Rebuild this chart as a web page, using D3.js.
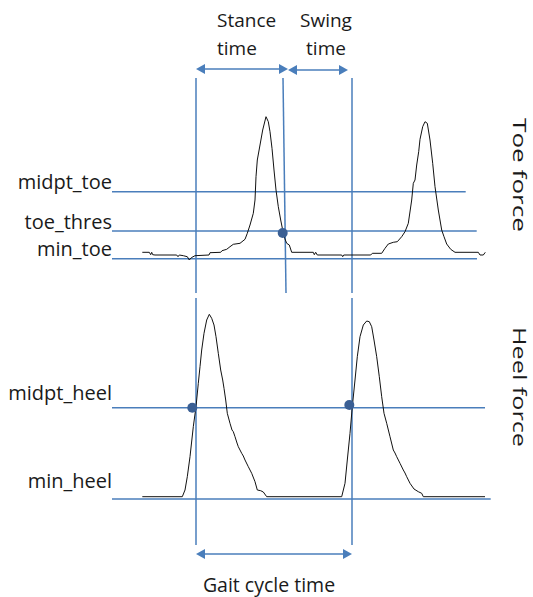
<!DOCTYPE html>
<html>
<head>
<meta charset="utf-8">
<script src="https://cdn.jsdelivr.net/npm/d3@7"></script>
<style>
  html, body { margin: 0; padding: 0; background: #fff; }
  svg text { font-family: "Open Sans", Lato, sans-serif; fill: #1a1a1a; }
</style>
</head>
<body>
<svg id="chart" width="533" height="597"></svg>
<script>
// Toe sensor force over time: [time (s), force]
const toeSignal = [
  [0.003, 9.7], [0.073, 9.7], [0.087, 7.3], [0.097, 9.7], [0.107, 7.3], [0.13, 7],
  [0.347, 7], [0.36, 5.3], [0.373, 7], [0.413, 6.3], [0.453, 5.3], [0.473, 2],
  [0.493, 4.3], [0.53, 6.3], [0.67, 7], [0.68, 9.3], [0.787, 9.7], [0.80, 11.3],
  [0.847, 12.7], [0.88, 15.3], [0.913, 17.7], [0.98, 18.7], [1.03, 22.7], [1.053, 28.7],
  [1.08, 37], [1.113, 48.7], [1.13, 62], [1.14, 85.3], [1.153, 102], [1.18, 117],
  [1.207, 132], [1.24, 145.3], [1.263, 140.3], [1.28, 130.3], [1.30, 113.7], [1.32, 92],
  [1.34, 72], [1.363, 55.3], [1.387, 42], [1.407, 32], [1.427, 23.7], [1.447, 18.7],
  [1.473, 17], [1.497, 9.7], [1.713, 9.7], [1.723, 7.3], [1.737, 9.7], [1.753, 7],
  [1.997, 7], [2.007, 5.3], [2.017, 7], [2.287, 7], [2.303, 8.7], [2.397, 8.7],
  [2.43, 13.7], [2.463, 18], [2.513, 19.7], [2.553, 20.3], [2.597, 25.3], [2.63, 30.3],
  [2.663, 38.7], [2.697, 62], [2.713, 78.7], [2.73, 82], [2.747, 97], [2.767, 110.3],
  [2.78, 122.7], [2.807, 135.3], [2.83, 140.3], [2.853, 138.7], [2.88, 122], [2.907, 98.7],
  [2.93, 75.3], [2.963, 52], [2.997, 32], [3.02, 25.3], [3.047, 18], [3.087, 12.7],
  [3.13, 9.7], [3.363, 9.7], [3.38, 7], [3.413, 7], [3.433, 9.7]
];

// Heel sensor force over time: [time (s), force]
const heelSignal = [
  [0.003, 5.3], [0.403, 5.3], [0.43, 12], [0.453, 25.3], [0.48, 45.3], [0.513, 75.3],
  [0.54, 95.3], [0.563, 118.7], [0.58, 135.3], [0.597, 152], [0.62, 168.7], [0.647, 182],
  [0.673, 187.7], [0.697, 183.7], [0.72, 177], [0.74, 165.3], [0.763, 148.7], [0.787, 132],
  [0.807, 122], [0.82, 113.7], [0.837, 102], [0.853, 88.7], [0.88, 78.7], [0.90, 72],
  [0.913, 70.3], [0.93, 65.3], [0.95, 59], [0.963, 55.3], [0.997, 48.7], [1.013, 46],
  [1.03, 42], [1.063, 35.3], [1.08, 32], [1.097, 28.7], [1.13, 20.3], [1.153, 12],
  [1.187, 11.3], [1.213, 10], [1.247, 5.3], [1.997, 5.3],
  [2.03, 18.7], [2.053, 42], [2.08, 68.7], [2.103, 95.3], [2.13, 122], [2.153, 145.3],
  [2.18, 165.3], [2.213, 177], [2.247, 181], [2.273, 180.3], [2.297, 175.3], [2.32, 162],
  [2.347, 145.3], [2.373, 125.3], [2.397, 105.3], [2.42, 88.7], [2.447, 78.7], [2.48, 65.3],
  [2.513, 52], [2.53, 49], [2.547, 45.3], [2.58, 38.7], [2.613, 32], [2.63, 29], [2.647, 25.3],
  [2.68, 18.7], [2.72, 13], [2.763, 10.3], [2.797, 8.7], [2.813, 5.3], [3.43, 5.3]
];

// Reference levels for each sensor
const toeLevelNames  = ["midpt_toe", "toe_thres", "min_toe"];
const toeLevelValues = [70.3, 31, 3.3];
const toeLevelEnds   = [3.237, 3.347, 3.35];
const heelLevelNames  = ["midpt_heel", "min_heel"];
const heelLevelValues = [94.3, 3];
const heelLevelEnds   = [3.43, 3.487];

// Detected gait events (s)
const heelStrikeTimes = [0.54, 2.10];
const toeOffTimes = [1.41, 1.44];          // toe-off marker, top and bottom of the toe panel
const toeOffPoint = [[1.407, 29]];
const heelStrikePoints = [[0.503, 94.3], [2.073, 97]];

// Interval annotations
const intervalNames = ["Stance", "Swing"];
const intervalStart = [0.54, 1.46];
const intervalEnd   = [1.46, 2.08];
const gaitCycle = [0.54, 2.10];
const panelTitles = ["Toe force", "Heel force"];

const blue = "#4a7ebb";
const dotBlue = "#3a5f94";

const svg = d3.select("#chart");

// Horizontal layout: time axis
const x = d3.scaleLinear().domain([0, 3.43]).range([142, 485]);
// Vertical layout: two stacked panels
const toeY = d3.scaleLinear().domain([0, 150]).range([262, 112]);
const heelY = d3.scaleLinear().domain([0, 200]).range([502, 302]);
const toePanel = [78, 293];
const heelPanel = [298, 545];
const labelRight = 112;

const line = yScale => d3.line().x(d => x(d[0])).y(d => yScale(d[1]));

// Level lines with their names on the left
function drawLevels(names, values, ends, yScale, baselineShift) {
  names.forEach((name, i) => {
    const yy = yScale(values[i]);
    svg.append("line")
      .attr("x1", labelRight).attr("x2", x(ends[i]))
      .attr("y1", yy).attr("y2", yy)
      .attr("stroke", blue).attr("stroke-width", 1.5);
    svg.append("text")
      .attr("x", labelRight).attr("y", yy - baselineShift[i])
      .attr("text-anchor", "end")
      .attr("font-size", 20)
      .text(name);
  });
}
drawLevels(toeLevelNames, toeLevelValues, toeLevelEnds, toeY, [3, 2, 3]);
drawLevels(heelLevelNames, heelLevelValues, heelLevelEnds, heelY, [8, 11]);

// Event lines across the panels
heelStrikeTimes.forEach(t => {
  [toePanel, heelPanel].forEach(p => {
    svg.append("line")
      .attr("x1", x(t)).attr("x2", x(t))
      .attr("y1", p[0]).attr("y2", p[1])
      .attr("stroke", blue).attr("stroke-width", 1.5);
  });
});
svg.append("line")
  .attr("x1", x(toeOffTimes[0])).attr("x2", x(toeOffTimes[1]))
  .attr("y1", toePanel[0]).attr("y2", toePanel[1])
  .attr("stroke", blue).attr("stroke-width", 1.5);

// Force signals
svg.append("path").datum(toeSignal)
  .attr("d", line(toeY)).attr("fill", "none")
  .attr("stroke", "#111").attr("stroke-width", 1);
svg.append("path").datum(heelSignal)
  .attr("d", line(heelY)).attr("fill", "none")
  .attr("stroke", "#111").attr("stroke-width", 1);

// Event points
svg.selectAll(".toe-dot").data(toeOffPoint).join("circle")
  .attr("class", "toe-dot")
  .attr("cx", d => x(d[0])).attr("cy", d => toeY(d[1])).attr("r", 5)
  .attr("fill", dotBlue);
svg.selectAll(".heel-dot").data(heelStrikePoints).join("circle")
  .attr("class", "heel-dot")
  .attr("cx", d => x(d[0])).attr("cy", d => heelY(d[1])).attr("r", 5)
  .attr("fill", dotBlue);

// Double-headed arrows
function arrow(x0, x1, yy) {
  const head = 9, half = 5;
  svg.append("line")
    .attr("x1", x0 + head - 1).attr("x2", x1 - head + 1)
    .attr("y1", yy).attr("y2", yy)
    .attr("stroke", blue).attr("stroke-width", 1.5);
  svg.append("path")
    .attr("d", `M${x0},${yy}L${x0 + head},${yy - half}L${x0 + head},${yy + half}Z`)
    .attr("fill", blue);
  svg.append("path")
    .attr("d", `M${x1},${yy}L${x1 - head},${yy - half}L${x1 - head},${yy + half}Z`)
    .attr("fill", blue);
}
arrow(x(intervalStart[0]), x(intervalEnd[0]), 69);
arrow(x(intervalStart[1]), x(intervalEnd[1]) - 2, 70);
arrow(x(gaitCycle[0]), x(gaitCycle[1]), 554);

// Interval titles
const stance = svg.append("text").attr("font-size", 19).attr("x", 217);
stance.append("tspan").attr("x", 217).attr("y", 27).text(intervalNames[0]);
stance.append("tspan").attr("x", 217).attr("y", 55).text("time");
const swing = svg.append("text").attr("font-size", 19).attr("text-anchor", "middle");
swing.append("tspan").attr("x", 326).attr("y", 27).text(intervalNames[1]);
swing.append("tspan").attr("x", 326).attr("y", 55).text("time");

svg.append("text")
  .attr("x", 269).attr("y", 592)
  .attr("text-anchor", "middle").attr("font-size", 19.5)
  .text("Gait cycle time");

// Panel titles on the right, read top to bottom
[[panelTitles[0], 118, 114], [panelTitles[1], 327, 120]].forEach(([label, y0, len]) => {
  svg.append("text")
    .attr("transform", `translate(513,${y0}) rotate(90)`)
    .attr("font-size", 18)
    .attr("textLength", len)
    .attr("lengthAdjust", "spacingAndGlyphs")
    .text(label);
});
</script>
</body>
</html>
